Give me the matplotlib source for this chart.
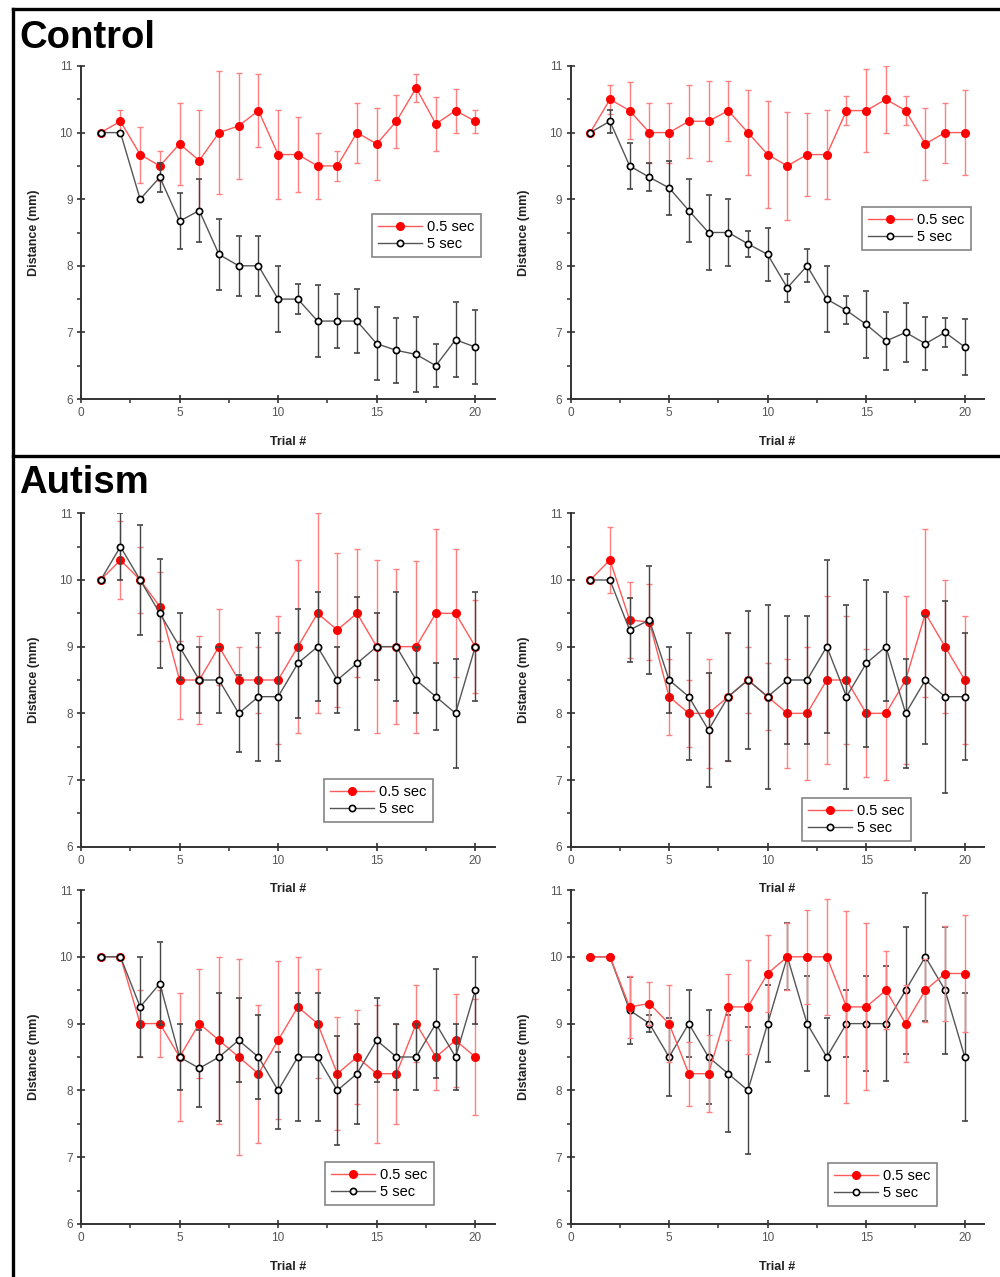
import numpy as np
import matplotlib.pyplot as plt
from matplotlib.lines import Line2D

plt.rcParams['font.family'] = ['Liberation Sans', 'DejaVu Sans']

trials = np.arange(1, 21)

# Control, left
c1_red = [10, 10.17, 9.67, 9.5, 9.83, 9.58, 10.0, 10.1, 10.33, 9.67, 9.67, 9.5, 9.5, 10.0, 9.83, 10.17, 10.67, 10.13, 10.33, 10.17]
c1_red_err = [0, 0.17, 0.42, 0.22, 0.61, 0.76, 0.92, 0.8, 0.55, 0.67, 0.56, 0.5, 0.23, 0.45, 0.54, 0.4, 0.21, 0.4, 0.33, 0.17]
c1_blk = [10, 10, 9.0, 9.33, 8.67, 8.83, 8.17, 8.0, 8.0, 7.5, 7.5, 7.17, 7.17, 7.17, 6.83, 6.73, 6.67, 6.5, 6.89, 6.78]
c1_blk_err = [0, 0, 0, 0.22, 0.42, 0.48, 0.54, 0.45, 0.45, 0.5, 0.22, 0.54, 0.4, 0.48, 0.55, 0.49, 0.56, 0.32, 0.56, 0.55]

# Control, right
c2_red = [10, 10.5, 10.33, 10, 10, 10.17, 10.17, 10.33, 10, 9.67, 9.5, 9.67, 9.67, 10.33, 10.33, 10.5, 10.33, 9.83, 10, 10]
c2_red_err = [0, 0.22, 0.43, 0.45, 0.45, 0.55, 0.6, 0.45, 0.64, 0.8, 0.81, 0.62, 0.67, 0.22, 0.62, 0.5, 0.22, 0.54, 0.45, 0.64]
c2_blk = [10, 10.17, 9.5, 9.33, 9.17, 8.83, 8.5, 8.5, 8.33, 8.17, 7.67, 8.0, 7.5, 7.33, 7.12, 6.87, 7.0, 6.83, 7.0, 6.78]
c2_blk_err = [0, 0.17, 0.34, 0.21, 0.4, 0.47, 0.57, 0.5, 0.2, 0.4, 0.21, 0.25, 0.5, 0.21, 0.5, 0.43, 0.44, 0.4, 0.22, 0.42]

# Autism, top left
a1_red = [10, 10.3, 10, 9.6, 8.5, 8.5, 9.0, 8.5, 8.5, 8.5, 9.0, 9.5, 9.25, 9.5, 9.0, 9.0, 9.0, 9.5, 9.5, 9.0]
a1_red_err = [0, 0.58, 0.5, 0.52, 0.58, 0.66, 0.57, 0.5, 0.5, 0.96, 1.3, 1.5, 1.15, 0.96, 1.3, 1.16, 1.29, 1.27, 0.96, 0.7]
a1_blk = [10, 10.5, 10, 9.5, 9.0, 8.5, 8.5, 8.0, 8.25, 8.25, 8.75, 9.0, 8.5, 8.75, 9.0, 9.0, 8.5, 8.25, 8.0, 9.0]
a1_blk_err = [0, 0.5, 0.82, 0.82, 0.5, 0.5, 0.5, 0.58, 0.96, 0.96, 0.82, 0.82, 0.5, 1.0, 0.5, 0.82, 0.5, 0.5, 0.82, 0.82]

# Autism, top right
a2_red = [10, 10.3, 9.4, 9.37, 8.25, 8.0, 8.0, 8.25, 8.5, 8.25, 8.0, 8.0, 8.5, 8.5, 8.0, 8.0, 8.5, 9.5, 9.0, 8.5]
a2_red_err = [0, 0.5, 0.57, 0.57, 0.57, 0.5, 0.82, 0.96, 0.5, 0.5, 0.82, 1.0, 1.26, 0.96, 0.96, 1.0, 1.26, 1.26, 1.0, 0.96]
a2_blk = [10, 10, 9.25, 9.4, 8.5, 8.25, 7.75, 8.25, 8.5, 8.25, 8.5, 8.5, 9.0, 8.25, 8.75, 9.0, 8.0, 8.5, 8.25, 8.25]
a2_blk_err = [0, 0, 0.48, 0.81, 0.5, 0.95, 0.86, 0.96, 1.04, 1.38, 0.96, 0.96, 1.3, 1.38, 1.25, 0.82, 0.82, 0.96, 1.44, 0.95]

# Autism, bottom left
a3_red = [10, 10, 9.0, 9.0, 8.5, 9.0, 8.75, 8.5, 8.25, 8.75, 9.25, 9.0, 8.25, 8.5, 8.25, 8.25, 9.0, 8.5, 8.75, 8.5]
a3_red_err = [0, 0, 0.5, 0.5, 0.96, 0.82, 1.25, 1.47, 1.03, 1.18, 0.75, 0.82, 0.85, 0.7, 1.03, 0.75, 0.58, 0.5, 0.7, 0.87]
a3_blk = [10, 10, 9.25, 9.6, 8.5, 8.33, 8.5, 8.75, 8.5, 8.0, 8.5, 8.5, 8.0, 8.25, 8.75, 8.5, 8.5, 9.0, 8.5, 9.5]
a3_blk_err = [0, 0, 0.75, 0.62, 0.5, 0.58, 0.96, 0.63, 0.63, 0.575, 0.96, 0.96, 0.82, 0.75, 0.63, 0.5, 0.5, 0.82, 0.5, 0.5]

# Autism, bottom right
a4_red = [10, 10, 9.25, 9.3, 9.0, 8.25, 8.25, 9.25, 9.25, 9.75, 10, 10, 10, 9.25, 9.25, 9.5, 9.0, 9.5, 9.75, 9.75]
a4_red_err = [0, 0, 0.47, 0.32, 0.58, 0.48, 0.58, 0.5, 0.7, 0.58, 0.5, 0.7, 0.87, 1.44, 1.25, 0.58, 0.58, 0.47, 0.71, 0.87]
a4_blk = [10, 10, 9.2, 9.0, 8.5, 9.0, 8.5, 8.25, 8.0, 9.0, 10, 9.0, 8.5, 9.0, 9.0, 9.0, 9.5, 10.0, 9.5, 8.5]
a4_blk_err = [0, 0, 0.5, 0.125, 0.58, 0.5, 0.7, 0.875, 0.95, 0.58, 0.5, 0.71, 0.58, 0.5, 0.71, 0.86, 0.95, 0.96, 0.95, 0.96]

W, H = 1000, 1277
fig = plt.figure(figsize=(W / 100, H / 100), dpi=100)

# pixel layout: left, y of value 6, y of value 11, legend corner, red drawn on top
panels = [
    (81, 399, 66, 372, 214, c1_red, c1_red_err, c1_blk, c1_blk_err, False),
    (570.5, 399, 66, 862, 207, c2_red, c2_red_err, c2_blk, c2_blk_err, False),
    (81, 846.7, 513.3, 324, 779, a1_red, a1_red_err, a1_blk, a1_blk_err, False),
    (570.5, 846.7, 513.3, 802, 798, a2_red, a2_red_err, a2_blk, a2_blk_err, False),
    (81, 1224, 890, 325, 1162, a3_red, a3_red_err, a3_blk, a3_blk_err, False),
    (570.5, 1224, 890, 828, 1163, a4_red, a4_red_err, a4_blk, a4_blk_err, True),
]

red_line = '#ff5a5a'
red_err = '#ff8080'
blk_line = '#555555'
blk_err = '#444444'

for left, y6, y11, lx, ly, red, rerr, blk, berr, red_top in panels:
    ax = fig.add_axes([left / W, 1 - y6 / H, 414 / W, (y6 - y11) / H])
    ax.patch.set_alpha(0)
    zr, zb = (4, 3) if red_top else (3, 4)
    ax.errorbar(trials, red, yerr=rerr, color=red_line, ecolor=red_err, elinewidth=1,
                capsize=2.5, capthick=1, lw=1, marker='o', ms=5.5, mfc='#ff0000',
                mec='#ff0000', zorder=zr)
    ax.errorbar(trials, blk, yerr=berr, color=blk_line, ecolor=blk_err, elinewidth=1,
                capsize=2.5, capthick=1, lw=1, marker='o', ms=4.5, mfc='white',
                mec='black', mew=1.2, zorder=zb)
    ax.set_xlim(0, 21)
    ax.set_ylim(6, 11)
    ax.set_xticks([0, 5, 10, 15, 20])
    ax.set_xticks(np.arange(2.5, 20, 5), minor=True)
    ax.set_yticks([6, 7, 8, 9, 10, 11])
    ax.set_yticks(np.arange(6.5, 11, 1), minor=True)
    for s in ['top', 'right']:
        ax.spines[s].set_visible(False)
    for s in ['left', 'bottom']:
        ax.spines[s].set_color('#333333')
        ax.spines[s].set_linewidth(1.4)
    ax.tick_params(which='major', direction='inout', length=6, width=1.2,
                   color='#333333', labelsize=8.5, labelcolor='#555555', pad=3)
    ax.tick_params(which='minor', direction='out', length=3, width=1.1, color='#333333')
    ax.set_ylabel('Distance (mm)', fontsize=9, fontweight='bold', color='#222222')
    ax.set_xlabel('Trial #', fontsize=9, fontweight='bold', color='#222222')
    ax.yaxis.set_label_coords(-0.099, 0.5)
    ax.xaxis.set_label_coords(0.5, -0.11)
    handles = [
        Line2D([], [], color=red_line, lw=1, marker='o', ms=5.5, mfc='#ff0000', mec='#ff0000'),
        Line2D([], [], color=blk_line, lw=1, marker='o', ms=4.5, mfc='white', mec='black', mew=1.2),
    ]
    leg = ax.legend(handles, ['0.5 sec', '5 sec'], loc='upper left',
                    bbox_to_anchor=(lx / W, 1 - ly / H), bbox_transform=fig.transFigure,
                    fontsize=10.5, frameon=True, fancybox=False, borderaxespad=0,
                    handlelength=3.0, handletextpad=0.4, labelspacing=0.25,
                    borderpad=0.4, numpoints=1)
    leg.get_frame().set_edgecolor('#666666')
    leg.get_frame().set_linewidth(1.2)

# section frames
fig.add_artist(Line2D([13 / W, 1], [1 - 9 / H, 1 - 9 / H], color='black', lw=2.4))
fig.add_artist(Line2D([13 / W, 13 / W], [0, 1 - 9 / H], color='black', lw=2.4))
fig.add_artist(Line2D([13 / W, 1], [1 - 456 / H, 1 - 456 / H], color='black', lw=2.4))

fig.text(19 / W, 1 - 38 / H, 'Control', fontsize=27.5, fontweight='bold', va='center', ha='left')
fig.text(19 / W, 1 - 483 / H, 'Autism', fontsize=27.5, fontweight='bold', va='center', ha='left')

fig.savefig('out.png', dpi=100)
